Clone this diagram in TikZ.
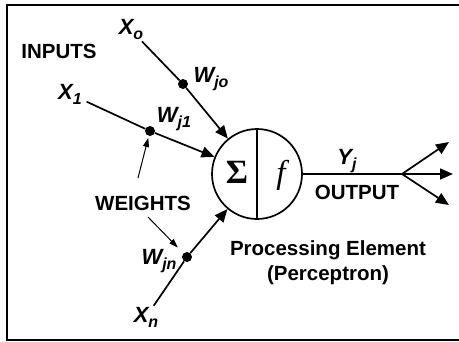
\documentclass[tikz,border=0pt]{standalone}
\usepackage[no-math]{fontspec}
\setmainfont{Liberation Sans}
\newfontfamily\serfont{Liberation Serif}
\newcommand\lsub[1]{\raisebox{-5pt}{\fontsize{16}{16}\selectfont #1}}
\usetikzlibrary{arrows.meta}
\begin{document}
\begin{tikzpicture}[x=1pt,y=-1pt,
  lbl/.style={font=\fontsize{20.5}{24}\selectfont\bfseries, inner sep=1pt},
  var/.style={font=\fontsize{22}{24}\selectfont\bfseries\itshape, inner sep=1pt},
  wdot/.style={circle, fill, inner sep=0pt, minimum size=10pt},
  conn/.style={line width=1.7pt},
  arr/.style={line width=1.7pt, -{Triangle[length=13pt,width=11pt]}},
  thinarr/.style={line width=1pt, -{Triangle[length=9pt,width=6pt]}}]
\useasboundingbox (0,0) rectangle (459,341);
\draw[line width=2pt] (470,5) -- (7,5) -- (7,340) -- (470,340);
% labels
\node[lbl] (inputs) at (59,51) {INPUTS};
\node[var] (x0) at (131,30) {X\lsub{o}};
\node[var] (x1) at (70,94) {X\lsub{1}};
\node[var] (xn) at (146,317) {X\lsub{n}};
\node[wdot] (d0) at (183,84) {};
\node[wdot] (d1) at (150,131) {};
\node[wdot] (dn) at (187,257) {};
\node[var] (w0) at (211,79) {W\lsub{jo}};
\node[var] (w1) at (174,119) {W\lsub{j1}};
\node[var] (wn) at (159,261) {W\lsub{jn}};
\node[lbl] (weights) at (143,203) {WEIGHTS};
% processing element
\node[circle, draw, line width=1.7pt, minimum size=90pt, inner sep=0pt] (pe) at (257,174) {};
\draw[line width=1.7pt] (pe.north) -- (pe.south);
\node (sig) at (237,172) {\fontsize{34}{34}\selectfont\serfont\bfseries Σ};
\node (fn) at (281,175) {\fontsize{33}{33}\selectfont\serfont\itshape f};
\node[var] (yj) at (347,161) {Y\lsub{j}};
\node[lbl] (out) at (357,192) {OUTPUT};
\node[lbl, anchor=base] (pe1) at (328,255) {Processing Element};
\node[lbl, anchor=base] (pe2) at (328,280) {(Perceptron)};
\coordinate (br) at (402,174);
\coordinate (o1) at (449,142);
\coordinate (o2) at (453,174);
\coordinate (o3) at (449,205);
% connectors
\draw[conn] (x0) -- (d0);
\draw[arr] (d0) -- (pe);
\draw[conn, shorten <=4pt] (x1) -- (d1);
\draw[arr] (d1) -- (pe);
\draw[conn] (xn) -- (dn);
\draw[arr] (dn) -- (pe);
\draw[conn] (pe) -- (br);
\draw[arr] (br) -- (o1);
\draw[arr] (br) -- (o2);
\draw[arr] (br) -- (o3);
\draw[thinarr, shorten >=2pt] (weights) ++(-5,-25) -- (d1);
\draw[thinarr, shorten >=8pt] (weights) ++(5,14) -- (dn);
\end{tikzpicture}
\end{document}
